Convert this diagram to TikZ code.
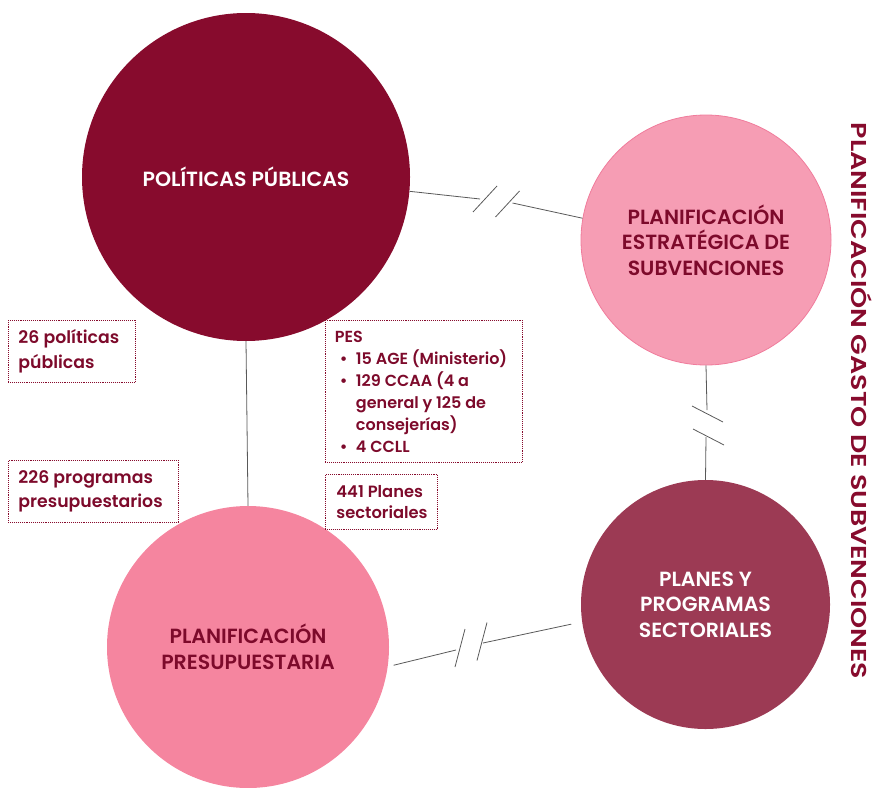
\documentclass[tikz,border=0pt]{standalone}
\usepackage{fontspec}
\setmainfont{Poppins}[BoldFont={Poppins SemiBold}]
\usetikzlibrary{calc}
\definecolor{granate}{HTML}{870B2D}
\definecolor{granatetxt}{HTML}{7D0A2B}
\definecolor{rosaclaro}{HTML}{F69DB4}
\definecolor{rosaborde}{HTML}{F07C9C}
\definecolor{rosamedio}{HTML}{F5859F}
\definecolor{burdeos}{HTML}{9C3A54}
\definecolor{gris}{HTML}{595959}
\tikzset{
  circulo/.style={circle, inner sep=0pt, align=center, font=\bfseries\fontsize{20.5}{25.5}\selectfont},
  caja/.style={draw=granate, densely dotted, line width=0.9pt, anchor=north west, inner xsep=10pt,
    align=flush left, text=granatetxt, font=\bfseries\fontsize{17.3}{24.5}\selectfont},
  enlace/.style={draw=gris, line width=0.8pt},
}
\newcommand{\vineta}{\makebox[21pt][l]{\hspace{5pt}\textbullet}}
\newcommand{\sangria}{\hspace*{21pt}}

\begin{document}
\begin{tikzpicture}[x=1pt, y=-1pt]
			%%%%% START %%%%%
			\useasboundingbox (0, 0) rectangle (880, 787);
			
			% circulos
			\node[circulo, minimum size=328, fill=granate, text=white] (pp) at (246, 177) {POLÍTICAS PÚBLICAS};
			\node[circulo, minimum size=250, fill=rosaclaro, draw=rosaborde, line width=0.8pt, text=granatetxt] (pe) at (706, 240) {PLANIFICACIÓN\\ESTRATÉGICA DE\\SUBVENCIONES};
			\node[circulo, minimum size=249, fill=burdeos, text=white] (pyp) at (705.5, 604.5) {PLANES Y\\PROGRAMAS\\SECTORIALES};
			\node[circulo, minimum size=282, fill=rosamedio, text=granatetxt] (ppr) at (248, 647) {PLANIFICACIÓN\\PRESUPUESTARIA};
			
			% cortes
			\coordinate (c1a) at (485, 199);
			\coordinate (c1b) at (507.5, 204);
			\coordinate (c2a) at (707.5, 414);
			\coordinate (c2b) at (708.5, 437);
			\coordinate (c3a) at (460, 648);
			\coordinate (c3b) at (482, 641.5);
			
			\draw[enlace] (pp.-5) -- ($(c1a)+(-5, 0)$);
			\draw[enlace] ($(c1b)+(5, -1)$) -- (pe.170);
			\draw[enlace] ([shift={(-12, 13)}]c1a) -- ([shift={(12, -13)}]c1a);
			\draw[enlace] ([shift={(-12, 13)}]c1b) -- ([shift={(12, -13)}]c1b);
			
			\draw[enlace] (pe.south) -- ($(c2a)+(-0.5, -4)$);
			\draw[enlace] ($(c2b)+(-2.5, 0)$) -- (pyp.north);
			\draw[enlace] ([shift={(-15.5, -8)}]c2a) -- ([shift={(15.5, 8)}]c2a);
			\draw[enlace] ([shift={(-15.5, -8)}]c2b) -- ([shift={(15.5, 8)}]c2b);
			
			\draw[enlace, shorten <=6pt] (ppr.-8) -- ($(c3a)+(-4, 2)$);
			\draw[enlace, shorten >=11pt] ($(c3b)+(1, 1.5)$) -- (pyp.188);
			\draw[enlace] ([shift={(-5, 19)}]c3a) -- ([shift={(5, -19)}]c3a);
			\draw[enlace] ([shift={(-5, 19)}]c3b) -- ([shift={(5, -19)}]c3b);
			
			\draw[enlace] (pp.south) -- (ppr.north);
			
			% cajas
			\node[caja, text width=107, minimum height=62] (politicas) at (8, 320) {26 políticas\\públicas};
			\node[caja, text width=150, minimum height=62] (programas) at (8, 460) {226 programas\\presupuestarios};
			\node[caja, inner xsep=9.5pt, text width=178, minimum height=142, font=\bfseries\fontsize{16}{22}\selectfont] (pes) at (325, 320) {PES\\
				\mbox{\vineta 15 AGE (Ministerio)}\\
				\mbox{\vineta 129 CCAA (4 a}\\
				\mbox{\sangria general y 125 de}\\
				\mbox{\sangria consejerías)}\\
				\mbox{\vineta 4 CCLL}};
			\node[caja, inner xsep=11pt, text width=90, minimum height=55, font=\bfseries\fontsize{16.3}{21}\selectfont] (planes) at (325, 474) {441 Planes\\sectoriales};
			
			% titulo
			\node[rotate=-90, text=granate, font=\bfseries\addfontfeature{FakeStretch=1.25}\fontsize{21.5}{21.5}\selectfont] (titulo) at (862, 401) {PLANIFICACIÓN GASTO DE SUBVENCIONES};
			
			%%%%% END %%%%%
\end{tikzpicture}
\end{document}
